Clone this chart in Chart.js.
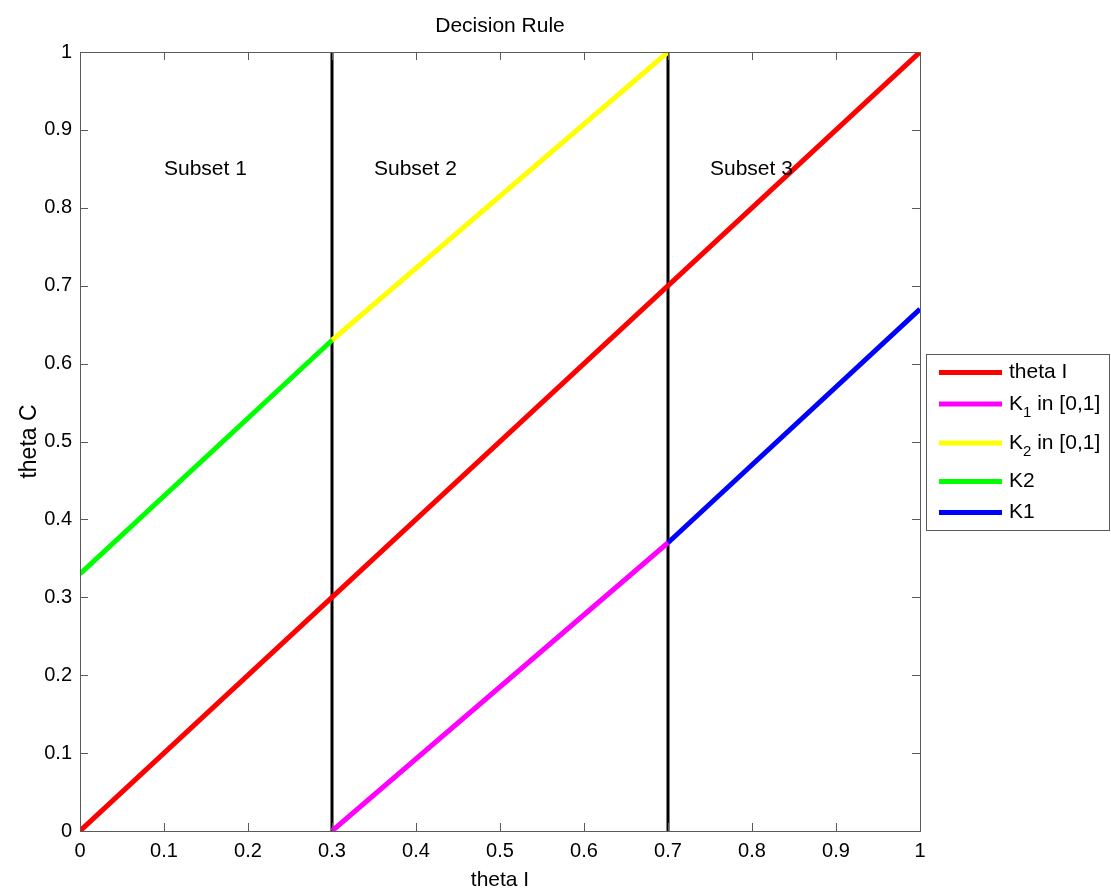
<!DOCTYPE html>
<html lang="en">
<head>
    <meta charset="UTF-8">
    <title>Decision Rule</title>
    <script src="https://cdn.jsdelivr.net/npm/chart.js"></script>
    <style>
        body {
            margin: 0;
            background: #ffffff;
        }
        #wrap {
            width: 1111px;
            height: 895px;
        }
    </style>
</head>
<body>
    <div id="wrap"><canvas id="grafico"></canvas></div>

    <script>
        // data
        const thetaX = [0, 1];
        const thetaY = [0, 1];
        const k1InX = [0.3, 0.7];
        const k1InY = [0, 0.37];
        const k2InX = [0.3, 0.7];
        const k2InY = [0.63, 1];
        const k2X = [0, 0.3];
        const k2Y = [0.33, 0.63];
        const k1X = [0.7, 1];
        const k1Y = [0.37, 0.67];
        const splitX = [0.3, 0.7];
        const splitY = [0, 1];

        const legendLabels = ['theta I', 'K_1 in [0,1]', 'K_2 in [0,1]', 'K2', 'K1'];
        const subsetLabels = ['Subset 1', 'Subset 2', 'Subset 3'];
        const subsetX = [0.1, 0.35, 0.75];
        const subsetY = [0.85, 0.85, 0.85];
        const tickValues = [0, 0.1, 0.2, 0.3, 0.4, 0.5, 0.6, 0.7, 0.8, 0.9, 1];

        const FONT = '"Liberation Sans", Arial, sans-serif';

        function pts(xs, ys) {
            return xs.map((x, i) => ({ x: x, y: ys[i] }));
        }

        function serie(label, xs, ys, color, width) {
            return {
                label: label,
                data: pts(xs, ys),
                showLine: true,
                borderColor: color,
                backgroundColor: color,
                borderWidth: width,
                pointRadius: 0,
                borderCapStyle: 'butt',
                fill: false
            };
        }

        const datasets = [
            serie(legendLabels[0], thetaX, thetaY, '#ff0000', 5),
            serie(legendLabels[1], k1InX, k1InY, '#ff00ff', 5),
            serie(legendLabels[2], k2InX, k2InY, '#ffff00', 5),
            serie(legendLabels[3], k2X, k2Y, '#00ff00', 5),
            serie(legendLabels[4], k1X, k1Y, '#0000ff', 5)
        ];
        splitX.forEach(x => {
            const d = serie('', [x, x], splitY, '#000000', 3);
            d.hideLegend = true;
            datasets.push(d);
        });

        // box, inward ticks, title, subset texts and legend
        const matlabLook = {
            id: 'matlabLook',
            afterDraw(chart) {
                const ctx = chart.ctx;
                const a = chart.chartArea;
                const xs = chart.scales.x;
                const ys = chart.scales.y;
                ctx.save();

                ctx.strokeStyle = '#5a5a5a';
                ctx.lineWidth = 1;
                ctx.strokeRect(a.left + 0.5, a.top + 0.5, a.right - a.left, a.bottom - a.top);

                ctx.beginPath();
                tickValues.forEach(v => {
                    const px = Math.round(xs.getPixelForValue(v)) + 0.5;
                    ctx.moveTo(px, a.bottom); ctx.lineTo(px, a.bottom - 8);
                    ctx.moveTo(px, a.top); ctx.lineTo(px, a.top + 8);
                    const py = Math.round(ys.getPixelForValue(v)) + 0.5;
                    ctx.moveTo(a.left, py); ctx.lineTo(a.left + 8, py);
                    ctx.moveTo(a.right, py); ctx.lineTo(a.right - 8, py);
                });
                ctx.stroke();

                ctx.fillStyle = '#000';
                ctx.font = '21px ' + FONT;
                ctx.textBaseline = 'middle';
                ctx.textAlign = 'center';
                ctx.fillText('Decision Rule', (a.left + a.right) / 2, a.top - 26);

                ctx.textAlign = 'left';
                subsetLabels.forEach((t, i) => {
                    ctx.fillText(t, xs.getPixelForValue(subsetX[i]), ys.getPixelForValue(subsetY[i]));
                });

                // legend
                const items = chart.data.datasets.filter(d => !d.hideLegend);
                const heights = items.map(d => d.label.includes('_') ? 39 : 31);
                const boxL = 926, boxR = 1109, boxT = 354;
                const boxH = heights.reduce((s, h) => s + h, 0) + 5;
                ctx.fillStyle = '#fff';
                ctx.fillRect(boxL, boxT, boxR - boxL, boxH);
                ctx.strokeStyle = '#5a5a5a';
                ctx.strokeRect(boxL + 0.5, boxT + 0.5, boxR - boxL, boxH);

                let y = boxT + 3;
                items.forEach((d, i) => {
                    const h = heights[i];
                    const cy = y + (d.label.includes('_') ? 16 : h / 2);
                    ctx.strokeStyle = d.borderColor;
                    ctx.lineWidth = 5;
                    ctx.beginPath();
                    ctx.moveTo(939, cy);
                    ctx.lineTo(1002, cy);
                    ctx.stroke();

                    ctx.fillStyle = '#000';
                    ctx.textBaseline = 'middle';
                    let tx = 1009;
                    const parts = d.label.split('_');
                    ctx.font = '21px ' + FONT;
                    ctx.fillText(parts[0], tx, cy);
                    tx += ctx.measureText(parts[0]).width;
                    if (parts.length > 1) {
                        const sub = parts[1].charAt(0);
                        const rest = parts[1].slice(1);
                        ctx.font = '15px ' + FONT;
                        ctx.fillText(sub, tx, cy + 9);
                        tx += ctx.measureText(sub).width;
                        ctx.font = '21px ' + FONT;
                        ctx.fillText(rest, tx, cy);
                    }
                    y += h;
                });

                ctx.restore();
            }
        };

        const ctxGrafico = document.getElementById('grafico').getContext('2d');
        new Chart(ctxGrafico, {
            type: 'scatter',
            data: { datasets: datasets },
            options: {
                responsive: true,
                maintainAspectRatio: false,
                animation: false,
                layout: { padding: { top: 52, right: 191, left: 0, bottom: 0 } },
                plugins: {
                    legend: { display: false },
                    tooltip: { enabled: false }
                },
                scales: {
                    x: {
                        type: 'linear',
                        min: 0,
                        max: 1,
                        afterFit: s => { s.height = 64; },
                        afterBuildTicks: s => { s.ticks = tickValues.map(v => ({ value: v })); },
                        grid: { display: false, drawTicks: false },
                        border: { display: false },
                        ticks: {
                            padding: 8,
                            color: '#000',
                            font: { family: FONT, size: 20 },
                            callback: v => String(Math.round(v * 10) / 10)
                        },
                        title: {
                            display: true,
                            text: 'theta I',
                            color: '#000',
                            font: { family: FONT, size: 21 },
                            padding: { top: 0, bottom: 2 }
                        }
                    },
                    y: {
                        type: 'linear',
                        min: 0,
                        max: 1,
                        afterFit: s => { s.width = 80; },
                        afterBuildTicks: s => { s.ticks = tickValues.map(v => ({ value: v })); },
                        grid: { display: false, drawTicks: false },
                        border: { display: false },
                        ticks: {
                            padding: 8,
                            color: '#000',
                            font: { family: FONT, size: 20 },
                            callback: v => String(Math.round(v * 10) / 10)
                        },
                        title: {
                            display: true,
                            text: 'theta C',
                            color: '#000',
                            font: { family: FONT, size: 23 },
                            padding: { top: 16, bottom: 0 }
                        }
                    }
                }
            },
            plugins: [matlabLook]
        });
    </script>
</body>
</html>
